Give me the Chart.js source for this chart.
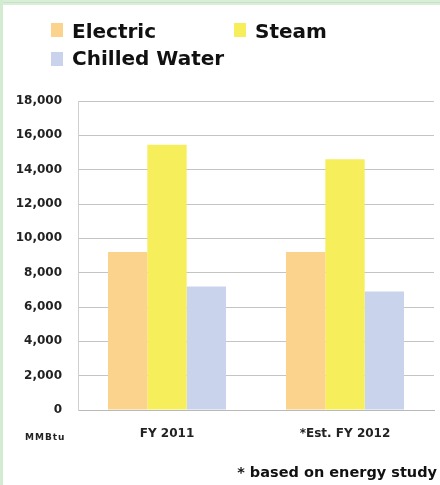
<!DOCTYPE html>
<html>
<head>
<meta charset="utf-8">
<script src="https://cdn.jsdelivr.net/npm/chart.js@4/dist/chart.umd.min.js"></script>
<style>
  html, body { margin: 0; padding: 0; background: #fff; }
  #wrap { position: relative; width: 440px; height: 485px; overflow: hidden; background: #fff; }
  #frameTop { position: absolute; left: 0; top: 0; width: 440px; height: 5px; background: #d9eed8; }
  #frameTop2 { position: absolute; left: 0; top: 2px; width: 440px; height: 1px; background: #c6e3c4; }
  #frameLeft { position: absolute; left: 0; top: 0; width: 3px; height: 485px; background: #d3ebd1; }
  #chartBox { position: absolute; left: 0; top: 0; width: 440px; height: 485px; }
  .leg { position: absolute; font-family: "DejaVu Sans", sans-serif; font-weight: bold; font-size: 20px; line-height: 20px; color: #111; white-space: nowrap; }
  .box { position: absolute; width: 12px; height: 14px; }
  #unit { position: absolute; left: 25px; top: 432px; font-family: "DejaVu Sans", sans-serif; font-weight: bold; font-size: 9px; line-height: 10px; letter-spacing: 1px; color: #222; }
  #note { position: absolute; right: 3px; top: 464px; font-family: "DejaVu Sans", sans-serif; font-weight: bold; font-size: 14.5px; line-height: 16px; color: #111; white-space: nowrap; }
</style>
</head>
<body>
<div id="wrap">
  <div id="chartBox"><canvas id="c"></canvas></div>
  <div id="frameTop"></div>
  <div id="frameTop2"></div>
  <div id="frameLeft"></div>
  <div id="legend"></div>
  <div id="unit">MMBtu</div>
  <div id="note">* based on energy study</div>
</div>
<script>
// ---- data ----
const categories = ["FY 2011", "*Est. FY 2012"];
const seriesNames = ["Electric", "Steam", "Chilled Water"];
const electric = [9200, 9200];
const steam = [15450, 14600];
const chilledWater = [7200, 6900];
const yTicks = [0, 2000, 4000, 6000, 8000, 10000, 12000, 14000, 16000, 18000];

const colors = ["#fbd38d", "#f7ee5c", "#c9d3ec"];

// ---- legend (HTML, real text) ----
const legendPos = [
  { box: [51, 23], text: [72, 21] },
  { box: [234, 23], text: [255, 21] },
  { box: [51, 52], text: [72, 48] }
];
const legend = document.getElementById("legend");
seriesNames.forEach((name, i) => {
  const b = document.createElement("div");
  b.className = "box";
  b.style.left = legendPos[i].box[0] + "px";
  b.style.top = legendPos[i].box[1] + "px";
  b.style.background = colors[i];
  legend.appendChild(b);
  const t = document.createElement("div");
  t.className = "leg";
  t.style.left = legendPos[i].text[0] + "px";
  t.style.top = legendPos[i].text[1] + "px";
  t.textContent = name;
  legend.appendChild(t);
});

const H = 485;
const plotTop = 101, plotBottom = 410, plotLeft = 78, plotRight = 434;

new Chart(document.getElementById("c"), {
  type: "bar",
  data: {
    labels: categories,
    datasets: [
      { label: seriesNames[0], data: electric, backgroundColor: colors[0] },
      { label: seriesNames[1], data: steam, backgroundColor: colors[1] },
      { label: seriesNames[2], data: chilledWater, backgroundColor: colors[2] }
    ]
  },
  options: {
    responsive: true,
    maintainAspectRatio: false,
    animation: false,
    layout: { padding: { top: plotTop, left: 0, right: 440 - plotRight, bottom: 0 } },
    datasets: { bar: { barPercentage: 1.0, categoryPercentage: 0.663, borderWidth: 0 } },
    plugins: { legend: { display: false }, tooltip: { enabled: false }, title: { display: false } },
    scales: {
      x: {
        grid: { display: false, drawTicks: false },
        border: { display: true, color: "#b9b9b9", width: 1 },
        ticks: { color: "#222", padding: 17, font: { family: "DejaVu Sans", weight: "bold", size: 12 }, maxRotation: 0 },
        afterFit: s => { s.height = H - plotBottom; }
      },
      y: {
        min: 0, max: 18000,
        afterBuildTicks: s => { s.ticks = yTicks.map(v => ({ value: v })); },
        grid: { color: "#c4c4c4", lineWidth: 1, drawTicks: false },
        border: { display: true, color: "#d0d0d0", width: 1 },
        ticks: {
          color: "#222", padding: 16,
          font: { family: "DejaVu Sans", weight: "bold", size: 12 },
          callback: v => v.toLocaleString("en-US")
        },
        afterFit: s => { s.width = plotLeft; }
      }
    }
  }
});
</script>
</body>
</html>
